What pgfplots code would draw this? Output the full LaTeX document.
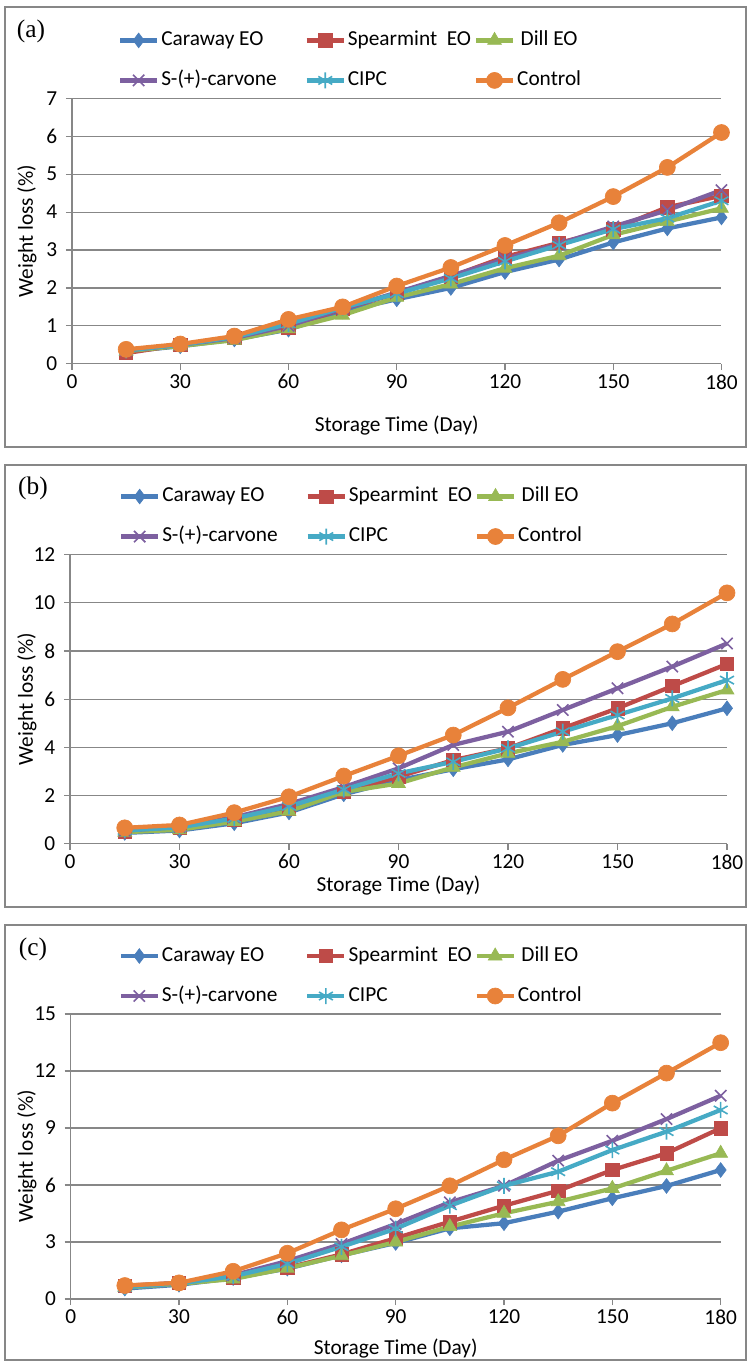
\documentclass[border=0pt]{standalone}
\usepackage{fontspec}
\setmainfont{Carlito}
\newfontfamily\panelfont{Liberation Serif}
\usepackage{pgfplots}
\usepackage{pgfplotstable}
\pgfplotsset{compat=1.18}

\definecolor{cBlue}{HTML}{4A7EBB}
\definecolor{cRed}{HTML}{BE4B48}
\definecolor{cGreen}{HTML}{98B954}
\definecolor{cPurple}{HTML}{7D60A0}
\definecolor{cCyan}{HTML}{46AAC5}
\definecolor{cOrange}{HTML}{E8823A}
\definecolor{axgray}{HTML}{878787}

% day, caraway, spearmint, dill, carvone, cipc, control
\pgfplotstableread{
day car  spe  dil  cvn  cip  con
15  0.32 0.28 0.33 0.35 0.35 0.38
30  0.46 0.50 0.47 0.50 0.50 0.52
45  0.64 0.68 0.62 0.68 0.70 0.73
60  0.90 0.95 0.92 1.00 1.05 1.17
75  1.38 1.45 1.28 1.45 1.48 1.50
90  1.70 1.85 1.75 1.88 1.85 2.05
105 2.00 2.30 2.10 2.32 2.25 2.54
120 2.42 2.82 2.52 2.76 2.70 3.12
135 2.75 3.19 2.85 3.16 3.13 3.72
150 3.20 3.55 3.40 3.62 3.55 4.41
165 3.57 4.13 3.75 4.05 3.84 5.18
180 3.86 4.43 4.10 4.58 4.30 6.10
}\dataA

\pgfplotstableread{
day car  spe  dil  cvn  cip  con
15  0.45 0.50 0.48 0.55 0.55 0.66
30  0.55 0.65 0.58 0.70 0.68 0.78
45  0.85 1.00 0.92 1.10 1.05 1.29
60  1.30 1.45 1.35 1.65 1.55 1.95
75  2.05 2.15 2.15 2.35 2.25 2.81
90  2.64 2.78 2.50 3.13 2.92 3.65
105 3.09 3.47 3.17 4.10 3.40 4.51
120 3.50 3.96 3.75 4.65 3.96 5.64
135 4.10 4.79 4.23 5.55 4.65 6.82
150 4.51 5.62 4.88 6.45 5.34 7.97
165 5.00 6.54 5.68 7.35 6.03 9.12
180 5.62 7.46 6.38 8.31 6.79 10.41
}\dataB

\pgfplotstableread{
day car  spe  dil  cvn  cip  con
15  0.55 0.70 0.60 0.65 0.62 0.71
30  0.75 0.85 0.80 0.85 0.82 0.85
45  1.10 1.10 1.05 1.25 1.20 1.46
60  1.60 1.65 1.62 2.00 1.85 2.41
75  2.30 2.35 2.28 2.90 2.75 3.64
90  2.95 3.20 3.00 3.95 3.70 4.75
105 3.72 4.07 3.81 5.09 4.91 5.96
120 3.99 4.91 4.51 5.96 5.96 7.33
135 4.60 5.70 5.12 7.28 6.70 8.59
150 5.30 6.79 5.82 8.33 7.84 10.31
165 5.95 7.67 6.75 9.47 8.81 11.89
180 6.79 8.99 7.67 10.70 9.95 13.49
}\dataC

\pgfplotsset{
  wl/.style={
    scale only axis,
    xmin=0, xmax=180, xtick={0,30,...,180},
    axis lines=left,
    axis line style={-, draw=axgray, line width=0.9pt},
    ymajorgrids,
    grid style={draw=axgray, line width=0.9pt},
    tick style={draw=axgray, line width=0.9pt},
    tick align=outside, major tick length=4.5pt,
    tick label style={font=\fontsize{16}{19}\selectfont},
    yticklabel style={xshift=-3pt},
    /pgf/number format/assume math mode=true,
    label style={font=\fontsize{16}{19}\selectfont},
    xlabel={Storage Time (Day)},
    ylabel={Weight loss (\%)},
    clip=false,
    legend columns=3,
    legend style={draw=none, fill=none, inner sep=0pt, outer sep=0pt,
      /tikz/column sep=0pt, /tikz/row sep=12.5pt,
      font=\fontsize{16}{19}\selectfont,
      nodes={inner sep=1.5pt, text height=11pt, text depth=3.5pt},
      at={(rel axis cs:0,1)}, anchor=south west},
    legend image code/.code={\draw[mark repeat=2,mark phase=2,#1]
      plot coordinates {(0pt,0pt)(13.9pt,0pt)(27.75pt,0pt)};},
    every axis plot/.append style={line width=3.2pt},
  },
  sCar/.style={color=cBlue, mark=diamond*, mark size=5.5pt, mark options={solid, line width=0.5pt}},
  sSpe/.style={color=cRed, mark=square*, mark size=5pt, mark options={solid, line width=0.5pt}},
  sDil/.style={color=cGreen, mark=triangle*, mark size=6pt, mark options={solid, line width=0.5pt}},
  sCvn/.style={color=cPurple, mark=x, mark size=6pt, mark options={solid, line width=1.2pt}},
  sCip/.style={color=cCyan, mark=asterisk, mark size=6pt, mark options={solid, line width=1.2pt}},
  sCon/.style={color=cOrange, mark=*, mark size=6pt, mark options={solid, line width=0.5pt}},
}

\newcommand{\allseries}[1]{%
  \addplot[sCar] table[x=day, y=car] {#1};
  \addlegendentry{\makebox[106pt][l]{Caraway EO}}
  \addplot[sSpe] table[x=day, y=spe] {#1};
  \addlegendentry{\makebox[93pt][l]{Spearmint\ \ EO}}
  \addplot[sDil] table[x=day, y=dil] {#1};
  \addlegendentry{Dill EO}
  \addplot[sCvn] table[x=day, y=cvn] {#1};
  \addlegendentry{\makebox[106pt][l]{S-(+)-carvone}}
  \addplot[sCip] table[x=day, y=cip] {#1};
  \addlegendentry{\makebox[93pt][l]{CIPC}}
  \addplot[sCon] table[x=day, y=con] {#1};
  \addlegendentry{Control}
}

\begin{document}
\begin{tikzpicture}
\useasboundingbox (0pt,0pt) rectangle (563.25pt,-1022.25pt);

% panel frames
\draw[axgray, line width=0.9pt] (3.75pt,-5.25pt) rectangle (559.5pt,-335.25pt);
\draw[axgray, line width=0.9pt] (3.75pt,-348.75pt) rectangle (559.5pt,-680.25pt);
\draw[axgray, line width=0.9pt] (3.75pt,-693.75pt) rectangle (559.5pt,-1020pt);

\node[font=\panelfont\fontsize{19}{22}\selectfont] at (23.25pt,-23.5pt) {(a)};
\node[font=\panelfont\fontsize{19}{22}\selectfont] at (24.75pt,-366.5pt) {(b)};
\node[font=\panelfont\fontsize{19}{22}\selectfont] at (24.75pt,-712pt) {(c)};

% (a)
\begin{axis}[wl, at={(54pt,-272.8pt)}, anchor=south west,
  width=487.1pt, height=199pt,
  ymin=0, ymax=7, ytick={0,1,...,7},
  xlabel style={at={([yshift=-46.5pt]rel axis cs:0.5,0)}, anchor=center},
  ylabel style={at={([xshift=-33.75pt]rel axis cs:0,0.5)}, anchor=center},
  legend style={xshift=34.5pt, yshift=4.75pt}]
\allseries{\dataA}
\end{axis}

% (b)
\begin{axis}[wl, at={(52.5pt,-632.8pt)}, anchor=south west,
  width=492.75pt, height=216.9pt,
  ymin=0, ymax=12, ytick={0,2,...,12},
  xlabel style={at={([yshift=-31.5pt]rel axis cs:0.5,0)}, anchor=center},
  ylabel style={at={([xshift=-32.25pt]rel axis cs:0,0.5)}, anchor=center},
  legend style={xshift=36.75pt, yshift=4.75pt}]
\allseries{\dataB}
\end{axis}

% (c)
\begin{axis}[wl, at={(53pt,-974.25pt)}, anchor=south west,
  width=487.5pt, height=213.75pt,
  ymin=0, ymax=15, ytick={0,3,...,15},
  xlabel style={at={([yshift=-37.5pt]rel axis cs:0.5,0)}, anchor=center},
  ylabel style={at={([xshift=-32.75pt]rel axis cs:0,0.5)}, anchor=center},
  legend style={xshift=36pt, yshift=4.75pt}]
\allseries{\dataC}
\end{axis}
\end{tikzpicture}
\end{document}
